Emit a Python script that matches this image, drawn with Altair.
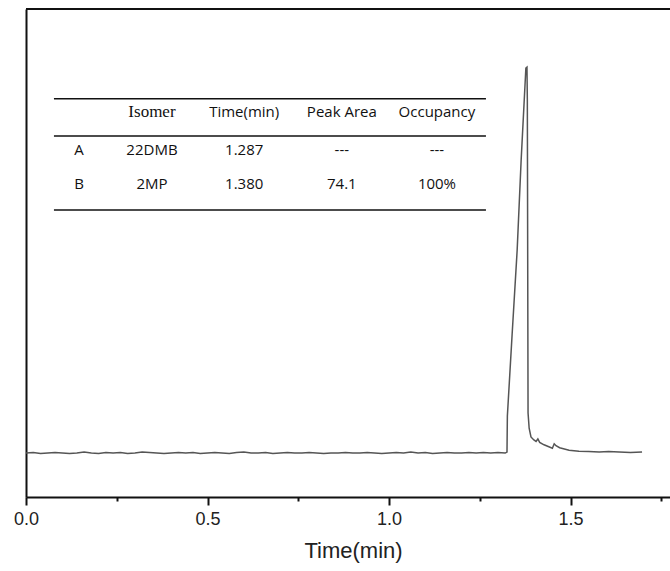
import altair as alt
import pandas as pd

# Chromatogram trace: retention time (min) and detector signal (arbitrary units)
base_time = [0.00, 0.02, 0.04, 0.06, 0.08, 0.10, 0.12, 0.14, 0.16, 0.18,
             0.20, 0.22, 0.24, 0.26, 0.28, 0.30, 0.32, 0.34, 0.36, 0.38,
             0.40, 0.42, 0.44, 0.46, 0.48, 0.50, 0.52, 0.54, 0.56, 0.58,
             0.60, 0.62, 0.64, 0.66, 0.68, 0.70, 0.72, 0.74, 0.76, 0.78,
             0.80, 0.82, 0.84, 0.86, 0.88, 0.90, 0.92, 0.94, 0.96, 0.98,
             1.00, 1.02, 1.04, 1.06, 1.08, 1.10, 1.12, 1.14, 1.16, 1.18,
             1.20, 1.22, 1.24, 1.26, 1.28, 1.30, 1.32]
base_signal = [9.0, 9.1, 8.9, 9.0, 9.1, 9.0, 8.9, 9.0, 9.2, 9.0,
               8.9, 9.1, 9.0, 9.1, 8.9, 9.0, 9.2, 9.1, 9.0, 8.9,
               9.0, 9.1, 9.0, 9.1, 8.9, 9.0, 9.1, 9.0, 8.9, 9.1,
               9.2, 9.0, 9.0, 9.1, 8.9, 9.0, 9.1, 9.0, 9.0, 9.1,
               9.0, 8.9, 9.0, 9.0, 9.1, 9.0, 9.0, 9.1, 9.0, 8.9,
               9.0, 9.1, 9.0, 9.2, 9.0, 9.1, 8.9, 9.0, 9.1, 9.0,
               9.0, 9.1, 9.0, 9.1, 9.0, 9.1, 9.0]
peak_time = [1.325, 1.326, 1.339, 1.353, 1.364, 1.377, 1.380, 1.381, 1.383,
             1.386, 1.391, 1.399, 1.405, 1.410, 1.415, 1.427, 1.450, 1.455,
             1.460, 1.470, 1.496, 1.523, 1.550, 1.579, 1.605, 1.634, 1.665,
             1.697]
peak_signal = [9.2, 16.6, 33.2, 50.6, 69.1, 87.9, 88.1, 81.4, 17.2,
               14.1, 12.3, 11.7, 11.4, 11.9, 11.2, 10.7, 10.0, 10.9,
               10.5, 10.1, 9.6, 9.4, 9.3, 9.2, 9.3, 9.2, 9.1,
               9.2]

# Inset table contents
table_header = ["", "Isomer", "Time(min)", "Peak Area", "Occupancy"]
table_rows = [
    ["A", "22DMB", "1.287", "---", "---"],
    ["B", "2MP", "1.380", "74.1", "100%"],
]

# Axis range and tick values
X_MAX = 1.774
Y_MAX = 100
tick_values = [0.0, 0.25, 0.5, 0.75, 1.0, 1.25, 1.5, 1.75]

# Table placement (data units)
col_x = [0.146, 0.347, 0.601, 0.870, 1.132]
header_y = 78.9
row_y = [71.1, 64.1]
rule_y = [81.6, 74.0, 58.8]
rule_x0, rule_x1 = 0.077, 1.267

trace = pd.DataFrame({"t": base_time + peak_time,
                      "signal": base_signal + peak_signal})
trace["order"] = range(len(trace))

xscale = alt.Scale(domain=[0, X_MAX], nice=False, zero=False)
yscale = alt.Scale(domain=[0, Y_MAX], nice=False)

x_axis = alt.Axis(
    values=tick_values,
    labelExpr="datum.value % 0.5 === 0 ? format(datum.value, '.1f') : ''",
    tickSize={"condition": {"test": "datum.value % 0.5 === 0", "value": 8}, "value": 4},
    tickWidth=2, tickColor="#111", domainColor="#111", domainWidth=2,
    labelFont="Liberation Sans", labelFontSize=18, labelColor="#222",
    labelPadding=5, labelFlush=False, labelOverlap=False, grid=False,
    title="Time(min)", titleFont="Liberation Sans", titleFontSize=22,
    titleFontWeight="normal", titleColor="#222",
    titleX=327, titleY=53, titleBaseline="middle", titleAnchor="start",
    titleAlign="center",
)
y_axis = alt.Axis(labels=False, ticks=False, grid=False, title=None,
                  domainColor="#111", domainWidth=2)

line = alt.Chart(trace).mark_line(color="#555", strokeWidth=1.5, clip=True).encode(
    x=alt.X("t:Q", scale=xscale, axis=x_axis),
    y=alt.Y("signal:Q", scale=yscale, axis=y_axis),
    order="order:Q",
)

# Top border of the frame
top = alt.Chart(pd.DataFrame({"a": [0]})).mark_rule(color="#111", strokeWidth=2).encode(
    x=alt.X("x0:Q", scale=xscale, axis=x_axis), x2="x1:Q",
    y=alt.Y("y:Q", scale=yscale, axis=y_axis),
).transform_calculate(x0="0", x1=str(X_MAX), y=str(Y_MAX))

# Table rules
rules_df = pd.DataFrame({"y": rule_y, "x0": rule_x0, "x1": rule_x1})
rules = alt.Chart(rules_df).mark_rule(color="#111", strokeWidth=1.5).encode(
    x=alt.X("x0:Q", scale=xscale, axis=x_axis), x2="x1:Q",
    y=alt.Y("y:Q", scale=yscale, axis=y_axis),
)

cells = []
for c, h in enumerate(table_header):
    if h and h != "Isomer":
        cells.append({"x": col_x[c], "y": header_y, "text": h})
for r, row in enumerate(table_rows):
    for c, val in enumerate(row):
        cells.append({"x": col_x[c], "y": row_y[r], "text": val})
cells_df = pd.DataFrame(cells)

sans_text = alt.Chart(cells_df).mark_text(
    font="Open Sans", fontSize=15, color="#111", align="center", baseline="middle"
).encode(
    x=alt.X("x:Q", scale=xscale, axis=x_axis),
    y=alt.Y("y:Q", scale=yscale, axis=y_axis),
    text="text:N",
)

serif_df = pd.DataFrame({"x": [col_x[1]], "y": [header_y], "text": [table_header[1]]})
serif_text = alt.Chart(serif_df).mark_text(
    font="Liberation Serif", fontSize=17, color="#111", align="center", baseline="middle"
).encode(
    x=alt.X("x:Q", scale=xscale, axis=x_axis),
    y=alt.Y("y:Q", scale=yscale, axis=y_axis),
    text="text:N",
)

chart = alt.layer(line, top, rules, sans_text, serif_text).properties(
    width=644, height=488,
    autosize=alt.AutoSizeParams(type="none"),
    padding={"left": 26, "top": 9, "right": 0, "bottom": 74},
).configure_view(stroke="transparent", strokeWidth=0).configure(background="white")

chart.save("out.html", embed_options={"renderer": "svg", "actions": False})
